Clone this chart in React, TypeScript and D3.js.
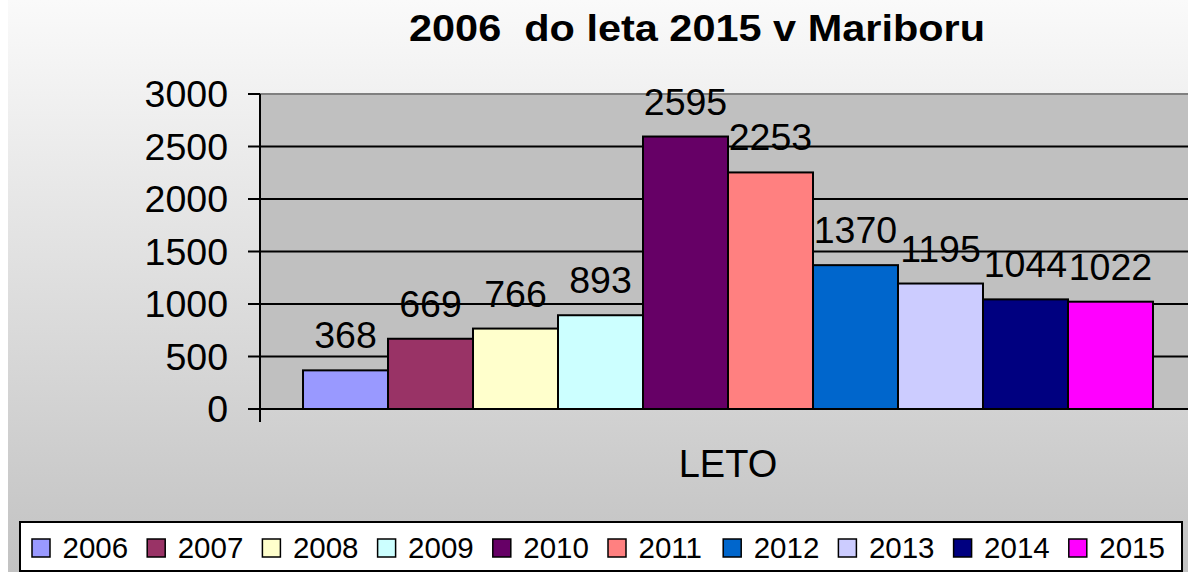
import React from "react";
import * as d3 from "d3";

const title = "2006  do leta 2015 v Mariboru";
const category = "LETO";
const years = ["2006", "2007", "2008", "2009", "2010", "2011", "2012", "2013", "2014", "2015"];
const values = [368, 669, 766, 893, 2595, 2253, 1370, 1195, 1044, 1022];
const colors = ["#9999ff", "#993366", "#ffffcc", "#ccffff", "#660066", "#ff8080", "#0066cc", "#ccccff", "#000080", "#ff00ff"];
const yTicks = [0, 500, 1000, 1500, 2000, 2500, 3000];

const W = 1180;
const H = 572;
const font = "'Liberation Sans', Arial, sans-serif";

export default function App() {
  // svg sits 8px right of the page edge (body margin), top at 0
  var left = 252;
  var right = 1188;
  var top = 94;
  var bottom = 409;

  var y = d3.scaleLinear().domain([0, 3000]).range([bottom, top]);
  var x0 = d3
    .scaleBand()
    .domain([category])
    .range([left, right])
    .paddingInner(0)
    .paddingOuter(0.0506);
  var x1 = d3.scaleBand().domain(years).range([0, x0.bandwidth()]);

  var legendX = d3.scaleLinear().domain([0, 9]).range([24, 24 + 9 * 115.2]);

  return (
    <svg
      width={W}
      height={H}
      style={{ position: "absolute", left: 8, top: 0 }}
      fontFamily={font}
    >
      <defs>
        <linearGradient id="bg" x1="0" y1="0" x2="0" y2="1">
          <stop offset="0" stopColor="#fafafa" />
          <stop offset="1" stopColor="#c2c2c2" />
        </linearGradient>
      </defs>
      <rect x={0} y={0} width={W} height={H} fill="url(#bg)" />

      <text
        x={689}
        y={41}
        textAnchor="middle"
        fontSize={37}
        fontWeight="bold"
        textLength={576}
        lengthAdjust="spacingAndGlyphs"
        style={{ whiteSpace: "pre" }}
      >
        {title}
      </text>

      <rect x={left} y={top} width={right - left} height={bottom - top} fill="#c0c0c0" />
      {yTicks.slice(1, -1).map((t) => (
        <line key={t} x1={left} x2={right} y1={y(t)} y2={y(t)} stroke="#000" strokeWidth={2} />
      ))}
      <line x1={left} x2={right} y1={top} y2={top} stroke="#808080" strokeWidth={2} />

      {values.map((v, i) => {
        var bx = (x0(category) as number) + (x1(years[i]) as number);
        return (
          <g key={years[i]}>
            <rect
              x={bx}
              y={y(v)}
              width={x1.bandwidth()}
              height={bottom - y(v)}
              fill={colors[i]}
              stroke="#000"
              strokeWidth={2}
            />
            <text x={bx + x1.bandwidth() / 2} y={y(v) - 22} textAnchor="middle" fontSize={37.5}>
              {v}
            </text>
          </g>
        );
      })}

      {/* axes */}
      <line x1={left} x2={left} y1={top} y2={bottom + 13} stroke="#000" strokeWidth={2} />
      <line x1={left - 12} x2={right} y1={bottom} y2={bottom} stroke="#000" strokeWidth={2} />
      {yTicks.map((t) => (
        <g key={t}>
          <line x1={left - 12} x2={left} y1={y(t)} y2={y(t)} stroke="#000" strokeWidth={2} />
          <text x={left - 32} y={y(t) + 13} textAnchor="end" fontSize={37.5}>
            {t}
          </text>
        </g>
      ))}
      <text x={(x0(category) as number) + x0.bandwidth() / 2} y={477} textAnchor="middle" fontSize={38}>
        {category}
      </text>

      {/* legend */}
      <rect x={12} y={522} width={1162} height={49} fill="#fff" stroke="#000" strokeWidth={2} />
      {years.map((yr, i) => (
        <g key={yr}>
          <rect x={legendX(i)} y={539} width={18} height={18} fill={colors[i]} stroke="#000" strokeWidth={1.5} />
          <text x={legendX(i) + 30.5} y={558} fontSize={29.5}>
            {yr}
          </text>
        </g>
      ))}
    </svg>
  );
}
